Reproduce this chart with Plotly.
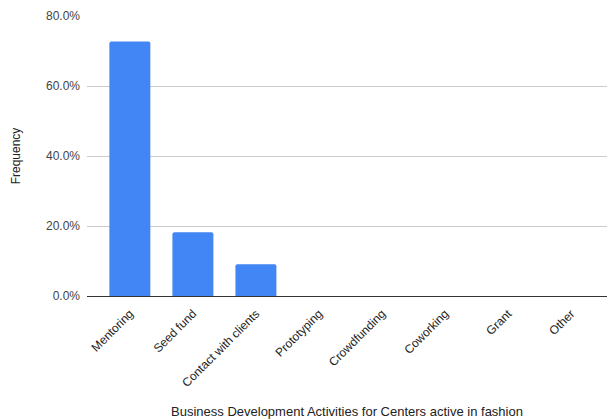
import plotly.graph_objects as go

activities = ["Mentoring", "Seed fund", "Contact with clients", "Prototyping",
              "Crowdfunding", "Coworking", "Grant", "Other"]
frequency = [8 / 11, 2 / 11, 1 / 11, 0, 0, 0, 0, 0]
y_ticks = [0, 0.2, 0.4, 0.6, 0.8]

font = "Liberation Sans, Arial, sans-serif"

fig = go.Figure(go.Bar(
    x=list(range(len(activities))),
    y=frequency,
    marker=dict(color="#4285f4", line=dict(width=0)),
    width=0.65,
))

fig.update_layout(
    width=608, height=419,
    margin=dict(l=87, r=1, t=16, b=123),
    paper_bgcolor="white", plot_bgcolor="white",
    showlegend=False,
    barcornerradius=2,
    font=dict(family=font, size=12, color="#444444"),
    xaxis=dict(
        tickmode="array",
        tickvals=list(range(len(activities))),
        ticktext=activities,
        tickangle=-45,
        range=[-0.68, 7.57],
        automargin=False,
        showgrid=False,
        showline=True, linecolor="#333333", linewidth=1,
        ticks="",
        ticklabelstandoff=5,
        tickfont=dict(size=12, color="#222222"),
        title=dict(text="Business Development Activities for Centers active in fashion",
                   font=dict(size=13, color="#222222"), standoff=22),
    ),
    yaxis=dict(
        range=[0, 0.8],
        tickvals=y_ticks,
        tickformat=".1%",
        automargin=False,
        showgrid=True, gridcolor="#cccccc", gridwidth=1,
        zeroline=False,
        ticks="",
        ticklabelstandoff=6,
        tickfont=dict(size=12, color="#444444"),
        title=dict(text="Frequency", font=dict(size=12, color="#222222"), standoff=22),
    ),
)

fig.write_html("out.html")
